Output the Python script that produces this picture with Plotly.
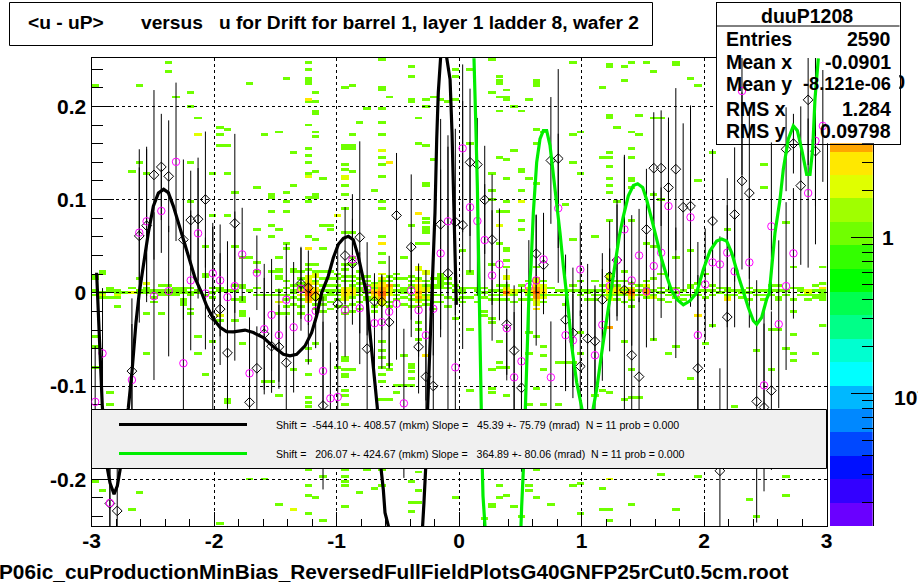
import numpy as np
import plotly.graph_objects as go

W, H = 918, 585
FONT = "Liberation Sans"

# ---- profile points: bin index (0-99 across u = -3..3), mean and error ----
black_bin = [2,3,5,6,7,8,9,10,12,13,14,15,16,17,18,19,21,22,23,24,25,26,28,29,30,31,33,34,35,36,37,38,39,40,41,43,44,45,46,47,48,49,
             50,51,52,53,54,56,57,58,60,61,62,63,64,65,66,67,68,69,70,71,72,73,74,75,76,77,78,79,80,81,82,84,85,86,87,88,89,90,91,92,94,95,96,97,98]
black_val = [-.226,-.234,-.084,.061,.072,.1265,.135,.125,.057,.078,.079,.100,-.025,-.0175,-.0645,.0745,-.1175,-.081,-.044,-.0573,-.058,-.075,.010,.0054,-.004,-.121,-.012,.04,.0315,.0595,-.06,-.009,-.01,-.0315,.083,.049,-.058,-.09,-.1,.0735,.021,.076,
             .0727,.14,.1376,.0997,.057,-.034,-.062,-.102,.042,.030,.142,.144,-.029,-.043,-.079,-.049,-.052,-.0075,.0176,.035,.003,-.067,-.09,.068,.1337,.1337,.113,.1326,.0918,.093,-.081,.077,-.191,-.026,.084,.12,.107,-.1165,-.123,-.105,.154,.16,.115,.207,.152]
black_err = [.08,.09,.078,.093,.082,.091,.057,.06,.086,.053,.066,.073,.1,.06,.06,.096,.07,.045,.06,.05,.045,.05,.038,.04,.025,.09,.06,.052,.048,.103,.07,.03,.03,.05,.067,.078,.05,.1,.08,.113,.148,.1,
             .133,.079,.05,.058,.07,.06,.07,.09,.042,.053,.068,.096,.07,.07,.06,.08,.06,.05,.03,.065,.143,.08,.085,.065,.06,.062,.075,.087,.09,.108,.1,.077,.11,.12,.072,.095,.092,.13,.09,.085,.045,.032,.085,.07,.1]

magenta_bin = [0,1,2,5,6,7,8,9,10,11,12,13,14,15,16,17,18,19,20,21,22,23,24,25,26,27,28,29,30,31,32,33,34,35,36,37,38,39,40,41,42,43,44,45,46,47,48,49,
               50,51,52,53,54,55,56,57,58,59,60,61,62,63,64,65,66,68,69,70,71,72,73,74,75,76,77,78,79,81,82,83,84,85,86,87,88,89,91,92,93,94,95,97,98,99]
magenta_val = [-.117,-.065,-.2255,-.0935,.0645,.0767,-.0036,.0878,.0018,.1405,-.0756,.0133,.0638,-.0007,.0208,.0133,-.0047,.0072,.0412,-.0864,.0215,-.039,-.0237,-.0455,-.0075,-.037,.0043,-.027,-.0194,-.0839,-.1133,-.1118,-.0186,.0358,-.0165,.0043,-.0326,-.0315,-.0204,-.0118,-.1186,.0025,-.0186,-.0455,-.0172,.0423,.0767,-.08,
               .155,.0918,.077,.0566,.0186,.0305,-.038,-.0907,-.0735,.0065,.0133,.0358,-.0907,.0907,-.0455,-.051,.025,-.067,-.0344,.0072,.0348,.068,.0133,.04,.0014,.0287,.043,.093,0.0,.081,-.0455,.009,.0326,.0305,.043,.023,.2165,.0326,-.0993,.0713,-.0337,.0072,.0423,.107,.163,.179]
magenta_err = [.06,.07,.07,.06,.07,.08,.09,.045,.07,.085,.07,.075,.07,.06,.05,.06,.06,.08,.05,.06,.04,.07,.06,.05,.06,.07,.045,.05,.04,.08,.06,.06,.05,.07,.06,.05,.05,.05,.06,.06,.08,.05,.05,.07,.05,.09,.08,.07,
               .09,.07,.08,.06,.07,.06,.05,.07,.08,.05,.07,.05,.06,.08,.06,.05,.05,.07,.06,.07,.06,.08,.07,.05,.06,.08,.07,.09,.07,.08,.1,.06,.07,.03,.08,.06,.09,.07,.08,.09,.09,.09,.07,.08,.07,.06]

# ---- fit curves ----
black_u = [-2.958,-2.944,-2.931,-2.912,-2.871,-2.849,-2.816,-2.789,-2.767,-2.699,-2.669,-2.637,-2.610,-2.577,-2.536,-2.495,-2.454,-2.411,-2.373,-2.332,-2.291,-2.250,-2.210,-2.155,-2.101,-2.060,-2.005,-1.951,-1.897,-1.842,-1.747,-1.679,-1.597,-1.516,-1.434,-1.380,-1.325,-1.257,-1.203,-1.162,-1.121,-1.067,-1.026,-.985,-.944,-.903,-.863,-.822,-.781,-.754,-.735,-.707,-.678,-.667,-.637,-.618,-.604,-.577,-.44,-.297,-.286,-.272,-.256,-.237,-.218,-.210,-.196,-.182,-.169,-.150,-.128,-.101,-.073,-.057,-.046,-.033,-.024,-.022]
black_fit = [.0215,-.021,-.068,-.121,-.188,-.204,-.216,-.207,-.19,-.123,-.084,-.032,0.0,.0287,.0645,.093,.107,.111,.1075,.093,.075,.057,.039,.016,0.0,-.014,-.028,-.037,-.0416,-.042,-.040,-.0427,-.048,-.0577,-.066,-.0677,-.066,-.057,-.0427,-.0247,0.0,.018,.0376,.052,.0584,.0606,.057,.039,.0143,0.0,-.032,-.068,-.107,-.123,-.188,-.211,-.236,-.25,-.40,-.25,-.225,-.188,-.123,-.05,0.0,.0287,.086,.165,.215,.2527,.27,.2527,.229,.172,.115,.0287,0.0,-.013]
green_u = [.1224,.1252,.1361,.1497,.1633,.1660,.1714,.1769,.1905,.1959,.2068,.2122,.36,.5061,.5116,.5252,.5442,.5605,.5714,.5878,.6068,.634,.6612,.6884,.7156,.7429,.7701,.7973,.8245,.8517,.8735,.8925,.9197,.9605,1.0014,1.0476,1.0966,1.1238,1.1728,1.2190,1.2408,1.2735,1.3088,1.3415,1.3823,1.4231,1.4585,1.4993,1.5320,1.5728,1.6136,1.6544,1.6952,1.7361,1.7769,1.8313,1.8857,1.9401,1.9946,2.0490,2.1034,2.1442,2.1850,2.2259,2.2803,2.3211,2.3619,2.4027,2.4299,2.4707,2.5116,2.5333,2.5524,2.5796,2.6204,2.6476,2.6884,2.7293,2.7619,2.7973,2.8381,2.8653,2.8871,2.9061,2.9333]
green_fit = [.2516,.229,.186,.115,.007,-.032,-.064,-.1215,-.19,-.218,-.247,-.25,-.45,-.25,-.229,-.19,-.114,-.032,0.0,.0287,.086,.14,.165,.174,.174,.158,.129,.097,.0645,.0287,.0036,-.0176,-.057,-.096,-.123,-.16,-.123,-.1036,-.057,-.0176,0.0,.0287,.061,.082,.104,.115,.117,.113,.1,.079,.057,.036,.018,.002,-.0068,-.0129,-.0086,0.0,.025,.045,.0555,.0577,.0555,.043,.018,0.0,-.0158,-.03,-.0337,-.0265,-.0068,0.0,.0287,.0645,.1,.1326,.165,.179,.174,.154,.127,.127,.154,.208,.2516]

# ---- 2D histogram cells: column (0-99) -> rows (row*0.0025 = u-uP), one entry ----
count1 = {
0:[89,7,6,1,-1,-19,-23,-32,-81],1:[9,8,0,-1,-2,-85],2:[2,1,-2,-43,-48],3:[1,0,-1,-2,-6],4:[0],5:[52,2,0,-93],6:[89,56,6,1,0,-86],7:[51,2,1,0,-9,-26],8:[1,0,-4,-2],9:[3,1,0,-1,-9],
10:[99,95,3,1,0,-1],11:[84,2,1,0,-1],12:[2,1,0,-3,-4,-5],13:[86,80,56,39,2,0,-1,-7,-9],14:[75,1,0,-19,-26],15:[20,8,7,-1,-35],16:[51,33,2,0,-2,-21],17:[71,68,63,1,2,-12,-99],18:[70,63,51,33,1,-46,-47],19:[43,20,3,1,-3,-12],
20:[15,3,2,-2,-3,-4,-8,-9,-10,-22],21:[90,15,1,-80],22:[45,27,13,9,2,-1],23:[68,-1,-38,-80],24:[42,41,35,29,24,9,-1,-38],25:[69,27,15,10,9,7,6,1,-1,-4,-9,-44,-91],26:[92,43,39,35,21,19,5,2,-1,-3,-6,-9],27:[60,46,10,9,3,1,0,-2,-5,-33],28:[9,6,4,3,2,1,-1,-3,-6,-9],29:[99,96,92,91,90,72,82,62,59,56,51,41,39,24,12,10,-24,-29,-35,-45,-47,-49,-76,-75,-83,-87,-95],
30:[86,82,78,77,69,67,52,42,41,23,12,9,7,5,1,-1,-5,-7,-22,-88],31:[49,29,19,9,6,3,1,-1,-2,-3,-5,-8,-79,-98],32:[29,27,9,6,3,1,0,-1,-4,-7],33:[8,6,3,1,-1,-3,-6,-32],34:[88,63,62,55,53,46,42,36,26,12,10,7,5,-6,-9,-28,-29,-33,-35,-36,-42,-44,-48,-76,-79,-81,-83,-92],35:[89,68,63,62,52,26,15,12,7,5,3,-1,-2,-5,-8,-33],36:[73,9,6,4,2,1,-1,-4,-7,-86],37:[79,7,5,3,1,0,-2,-3,-76],38:[44,4,2,1,-1,-3,-6,-8,-84],39:[100,88,87,79,73,68,61,58,55,50,39,36,24,17,13,5,-21,-25,-28,-32,-35,-38,-46,-76,-83],
40:[84,7,5,-4,-6,-31,-33,-46],41:[8,6,3,1,-1,-3,-40,-43],42:[15,6,2,1,0,-2,-5,-27,-40],43:[97,93,83,82,29,7,5,3,2,-1,-3,-6,-31,-32,-34,-37,-40,-81,-90,-94],44:[75,64,21,6,1,-3,-6,-13,-16,-20,-77,-85,-90],45:[83,80,63,47,46,32,30,28,27,26,21,5,3,-1,-3,-5],46:[84,57,6,3,2,-1,-4,-7],47:[83,8,7,6,5,4,3,2,-1,-4],48:[82,6,4,2,-2,-6],49:[96,93,83,3,1,-3,-11,-88],
50:[18,2,1,0,-2,-4],51:[96,64,9,8,2,-2,-16,-42],52:[2,1,-1,-4],53:[2,0,-2,-8,-10,-97],54:[100,86,51,44,40,12,1,-1,-3,-11,-13,-33,-41,-43,-91,-92],55:[93,91,90,84,78,58,35,21,3,1,-1,-3,-21,-30,-32,-83,-88],56:[87,84,83,57,49,39,35,19,18,14,11,3,-1,-3,-32,-44,-87],57:[80,61,1,-1,-4,-92],58:[78,53,52,44,31,27,3,1,-3,-96],59:[83,49,5,1,-1,-3,-17,-26,-48,-83,-85],
60:[91,90,89,70,64,47,11,5,-19,-41,-76,-88],61:[69,5,1,-1,-4,-23,-27,-33,-48],62:[2,-1,-91],63:[1,-1,-30,-48],64:[38,1,-1,-5,-30],65:[99,68,56,23,3,1,-30,-83],66:[69,51,5,1,-1,-17,-26,-82,-95],67:[1,0,-3],68:[24,5,1,-1,-3,-44],69:[88,58,3,1,-1,-42,-84,-93],
70:[98,97,76,75,60,58,54,49,46,43,31,8,6,1,-1,-43,-93,-98],71:[71,39,5,3,1,-1,-3],72:[97,91,9,5,1,-1,-4,-21,-46],73:[99,69,62,58,49,48,45,31,4,-1,-3,-6,-33,-45,-91],74:[76,68,3,1,-1,-45],75:[99,21,5,2,-2],76:[95,75,42,20,6,1,-1,-20],77:[75,40,8,2,0,-3,-78],78:[1,-1,-4,-26],79:[99,98,15,2,0,-2,-23,-93],
80:[1,-1,-3],81:[92,18,3,2,-1,-37],82:[89,48,4,1,-1,-79],83:[8,1,-2,-22],84:[60,3,1,-1,-14],85:[2,0],86:[27,2,1,-1],87:[1,-1,-49],88:[1,0,-2],89:[2,0,-3,-89],
90:[1,-1,-25,-96],91:[55,45,1,-1,-3],92:[3,1,-1,-16,-33],93:[3,1,-2,-3,-16],94:[30,1,-1,-24,-79,-87],95:[11,2,-3,-8,-18,-26,-29],96:[2,1,-1],97:[1,-1,-3],98:[3,1,-1,-2,-26],99:[11,4,1,0,-1,-2,-3,-14],
}
count2_col = [1,3,5,7,14,17,25,27,29,29,33,34,34,35,39,39,44,45,55,56,58,70,76,86,97,
              29,29,30,30,30,30,30,28,28,34,34,34,34,35,35,39,39,39,38,38,40,40,40,44,44,44,44,45,45,45,45,60,60,60,60,59,59,61,61,61,61,56,56,56,57,57,70,70,70,70,71,71,73,73,72,72,75,75,97]
count2_row = [-1,-1,0,4,68,-10,-4,-93,-4,50,33,50,49,1,61,-5,11,8,29,7,39,-80,-2,-2,0,
              7,6,8,7,4,-2,-3,1,-1,2,-1,-2,-3,2,-1,8,6,-4,3,-2,1,-1,0,11,10,5,-4,9,2,1,-2,6,5,-4,-5,2,0,3,2,0,-2,7,6,2,1,0,7,5,-2,-3,2,0,2,-2,2,0,3,-1,1]
count3_col = [29,29,34,35,39,40,44,44,45,56,59,60,60,70,70,72,82,86,99,
              29,29,29,30,30,30,34,34,35,39,39,39,38,38,40,44,44,44,60,60,59,61,61,56,56,70,70,71]
count3_row = [83,19,1,1,21,56,34,3,-27,-53,1,3,-7,3,1,0,-10,-3,2,
              5,4,-4,2,1,-1,0,-1,0,4,3,-3,1,-1,2,2,1,-1,4,-3,1,1,0,1,-1,2,0,1]
count4_col = [29,29,38,39,39,40,44,44,60,60,70,75,75,29,29,30,39,39,60,60,73,73]
count4_row = [3,-3,0,2,-2,3,0,-2,2,-2,-15,1,0,2,-2,0,1,-1,1,-1,1,-1]
count6_col = [29,39,56,60,73,29,29,39,60]
count6_row = [1,-1,0,0,0,0,-1,0,0]

# ---- palette: 20 contour bands on a log10 z axis ----
palette = ["#6a00ff","#3300ff","#0010ff","#0048ff","#0088ff","#00b8ff","#00ffff","#00ffd0","#00ff88","#00ff50",
           "#00ff00","#33ff00","#70ff00","#a0ff00","#e0ff00","#ffe800","#ffa500","#ff6600","#ff3000","#ff0000"]
log_z_low, log_z_high = -1.85, 1.15
colorbar_ticks_major = [0.1, 1, 10]
colorbar_labels = ["", "1", "10"]
colorbar_low_label = "10<sup>-1</sup>"
colorbar_ticks_minor = [.02,.03,.04,.05,.06,.07,.08,.09,.2,.3,.4,.5,.6,.7,.8,.9,2,3,4,5,6,7,8,9]

# ---- text ----
title_text = "<u - uP>       versus   u for Drift for barrel 1, layer 1 ladder 8, wafer 2"
file_text = "P06ic_cuProductionMinBias_ReversedFullFieldPlotsG40GNFP25rCut0.5cm.root"
stats_title = "duuP1208"
stats_names = ["Entries", "Mean x", "Mean y", "RMS x", "RMS y"]
stats_values = ["2590", "-0.0901", "-8.121e-06", "1.284", "0.09798"]
legend_black = "Shift =  -544.10 +- 408.57 (mkm) Slope =   45.39 +- 75.79 (mrad)  N = 11 prob = 0.000"
legend_green = "Shift =   206.07 +- 424.67 (mkm) Slope =   364.89 +- 80.06 (mrad)  N = 11 prob = 0.000"

# ---- geometry (fractions of the page) ----
def fx(p): return p / W
def fy(p): return 1 - p / H
PX = [fx(91.5), fx(826.5)]
PY = [fy(526), fy(58)]
XR = [-3, 3]
YR = [-0.2502, 0.2519]
BIN_U = 0.06
ROW_V = 0.0025
SUB = 4      # sub-rows per histogram row, so a cell can be painted as thick as the original raster

scale = []
n = len(palette)
for i, c in enumerate(palette):
    scale += [[i / n, c], [(i + 1) / n, c]]

# Build the histogram matrix
u_centers = [-3 + BIN_U * (i + .5) for i in range(100)]
first_row, last_row = -102, 103
v_centers = [k * ROW_V / SUB for k in range(first_row * SUB, last_row * SUB + 1)]
Z = np.full((len(v_centers), 100), np.nan)
def put(c, r, count):
    mid = (r - first_row) * SUB
    for k in range(mid - 2, mid + 3):
        if 0 <= k < Z.shape[0]:
            old = Z[k, c]
            val = np.log10(count)
            Z[k, c] = val if np.isnan(old) else max(old, val)
for c, rr in count1.items():
    for r in rr:
        put(c, r, 1)
for cols, rws, k in [(count2_col, count2_row, 2), (count3_col, count3_row, 3), (count4_col, count4_row, 4), (count6_col, count6_row, 6)]:
    for c, r in zip(cols, rws):
        put(c, r, k)

fig = go.Figure()
# 1: histogram cells
fig.add_trace(go.Heatmap(x=u_centers, y=v_centers, z=Z, zmin=log_z_low, zmax=log_z_high, colorscale=scale,
                         showscale=False, hoverongaps=False, xaxis="x", yaxis="y"))
# 2: palette strip
edges = [10 ** (log_z_low + (log_z_high - log_z_low) * k / n) for k in range(n + 1)]
band_centers = [[log_z_low + (log_z_high - log_z_low) * (k + .5) / n] for k in range(n)]
fig.add_trace(go.Heatmap(x=[0, 1], y=edges, z=band_centers, zmin=log_z_low, zmax=log_z_high, colorscale=scale,
                         showscale=False, xaxis="x2", yaxis="y2"))
# 3: empty trace carrying the frame, grid, ticks
fig.add_trace(go.Scatter(x=[None], y=[None], xaxis="x3", yaxis="y3", showlegend=False))
# 4: white statistics box, hides what is behind
fig.add_trace(go.Heatmap(x=[0], y=[0], z=[[0]], colorscale=[[0, "white"], [1, "white"]], showscale=False,
                         xaxis="x4", yaxis="y4"))
# 5: points, errors, curves
u_of = lambda bins: [u_centers[b] for b in bins]
fig.add_trace(go.Scatter(x=u_of(black_bin), y=black_val, mode="markers", xaxis="x5", yaxis="y5",
                         marker=dict(symbol="diamond-open", size=7.5, color="black", line=dict(width=1, color="black")),
                         error_y=dict(type="data", array=black_err, color="black", thickness=1, width=0)))
fig.add_trace(go.Scatter(x=u_of(magenta_bin), y=magenta_val, mode="markers", xaxis="x5", yaxis="y5",
                         marker=dict(symbol="circle-open", size=7.5, color="#ff00ff", line=dict(width=1, color="#ff00ff")),
                         error_y=dict(type="data", array=magenta_err, color="black", thickness=1, width=0)))
fig.add_trace(go.Scatter(x=black_u, y=black_fit, mode="lines", xaxis="x5", yaxis="y5",
                         line=dict(color="black", width=3.2)))
fig.add_trace(go.Scatter(x=green_u, y=green_fit, mode="lines", xaxis="x5", yaxis="y5",
                         line=dict(color="#00ee00", width=3.2)))

hidden = dict(visible=False)
tickfont = dict(family=FONT, size=21, color="black", weight="bold")
fig.update_layout(
    width=W, height=H, autosize=False, margin=dict(l=0, r=0, t=0, b=0, autoexpand=False),
    paper_bgcolor="white", plot_bgcolor="rgba(0,0,0,0)", showlegend=False,
    xaxis=dict(domain=PX, range=XR, **hidden),
    yaxis=dict(domain=PY, range=YR, **hidden),
    xaxis2=dict(domain=[fx(830), fx(872.7)], range=[0, 1], visible=False),
    yaxis2=dict(domain=PY, anchor="x2", type="log", range=[log_z_low, log_z_high], side="right",
                showline=True, linecolor="black", linewidth=1, showgrid=False, zeroline=False,
                ticks="inside", ticklen=22, tickcolor="black", tickwidth=1,
                tickvals=colorbar_ticks_major, ticktext=colorbar_labels, tickfont=tickfont, ticklabelstandoff=4,
                minor=dict(tickvals=colorbar_ticks_minor, ticks="inside", ticklen=11, tickcolor="black", tickwidth=1, showgrid=False)),
    xaxis3=dict(domain=PX, range=XR, anchor="y3", side="bottom", mirror=True, showline=True, linecolor="black", linewidth=1,
                ticks="inside", ticklen=14, tickcolor="black", tickvals=[-3,-2,-1,0,1,2,3], ticktext=["-3","-2","-1","0","1","2","3"],
                tickfont=tickfont, ticklabelstandoff=-4, zeroline=False, showgrid=True, gridcolor="black", griddash="3px,3px", gridwidth=1,
                minor=dict(dtick=0.2, ticks="inside", ticklen=7, tickcolor="black", showgrid=False)),
    yaxis3=dict(domain=PY, range=YR, anchor="x3", side="left", mirror=True, showline=True, linecolor="black", linewidth=1,
                ticks="inside", ticklen=22, tickcolor="black", tickvals=[-.2,-.1,0,.1,.2], ticktext=["-0.2","-0.1","0","0.1","0.2"],
                tickfont=tickfont, zeroline=False, showgrid=True, gridcolor="black", griddash="3px,3px", gridwidth=1,
                minor=dict(dtick=0.02, ticks="inside", ticklen=11, tickcolor="black", showgrid=False)),
    xaxis4=dict(domain=[fx(716.5), fx(899.5)], anchor="y4", range=[-.5, .5], showline=True, mirror=True, linecolor="black",
                showticklabels=False, ticks="", showgrid=False, zeroline=False),
    yaxis4=dict(domain=[fy(143.5), fy(2.5)], anchor="x4", range=[-.5, .5], showline=True, mirror=True, linecolor="black",
                showticklabels=False, ticks="", showgrid=False, zeroline=False),
    xaxis5=dict(domain=PX, range=XR, anchor="y5", **hidden),
    yaxis5=dict(domain=PY, range=YR, anchor="x5", **hidden),
)

def box(x0, y0, x1, y1, fill=None, layer="above"):
    fig.add_shape(type="rect", xref="paper", yref="paper", x0=fx(x0), x1=fx(x1), y0=fy(y0), y1=fy(y1),
                  line=dict(color="black", width=1), fillcolor=fill or "rgba(0,0,0,0)", layer=layer)
def seg(x0, y0, x1, y1, color="black", width=1):
    fig.add_shape(type="line", xref="paper", yref="paper", x0=fx(x0), x1=fx(x1), y0=fy(y0), y1=fy(y1),
                  line=dict(color=color, width=width), layer="above")
def text(s, x, y, size, anchor="left", bold=True):
    fig.add_annotation(text=s, x=fx(x), y=fy(y), xref="paper", yref="paper", showarrow=False, xanchor=anchor, yanchor="middle",
                       font=dict(family=FONT, size=size, color="black", weight="bold" if bold else "normal"), borderpad=0)

box(9.5, 2.5, 652.5, 45.5, "white")
text(title_text.replace("<", "&lt;").replace(">", "&gt;").replace(" ", "\u00a0"), 27, 23, 19.2)
text(file_text, 393, 571, 20.8, anchor="center")
text(colorbar_low_label, 893, 396, 21)

box(91.5, 409.5, 826.5, 468.5, "#f0f0f0")
seg(119, 424.5, 247, 424.5, "black", 3)
seg(119, 453.5, 247, 453.5, "#00ee00", 3)
text(legend_black.replace(" ", "\u00a0"), 275, 424.5, 10.6, bold=False)
text(legend_green.replace(" ", "\u00a0"), 275, 453.5, 10.6, bold=False)

seg(716.5, 26, 899.5, 26)
text(stats_title, 806.5, 16, 19.5, anchor="center")
stat_y = [39, 62, 84, 109, 131]
stat_size = [19.5, 19.5, 18.2, 19.5, 19.5]
for name, value, y, s in zip(stats_names, stats_values, stat_y, stat_size):
    text(name, 725, y, 19.5)
    text(value, 892, y, s, anchor="right")

fig.write_html("out.html", config=dict(displayModeBar=False), post_script="document.body.style.margin='0';")
